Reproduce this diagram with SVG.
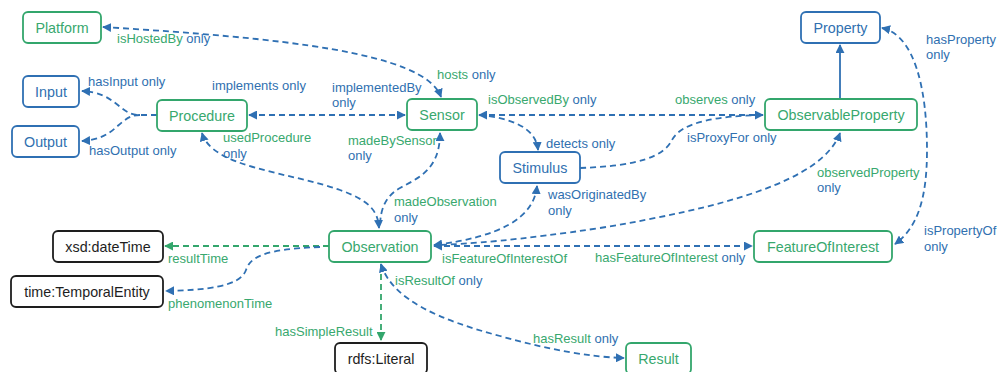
<svg xmlns="http://www.w3.org/2000/svg" width="1001" height="372" viewBox="0 0 1001 372">
<style>
.box{fill:#fff;stroke-width:1.8}
.g{stroke:#33a66c}
.b{stroke:#2f70b3}
.k{stroke:#1e1e1e}
.nt{font-family:"Liberation Sans",Arial,sans-serif;font-size:14.3px;text-anchor:middle}
.lt{font-family:"Liberation Sans",Arial,sans-serif;font-size:13px}
.tg{fill:#38a86e}
.tb{fill:#3070b0}
.tk{fill:#1e1e1e}
.c{fill:none;stroke-width:1.8;stroke-dasharray:6 4}
.cb{stroke:#2f70b3}
.cg{stroke:#33a66c}
.solid{fill:none;stroke:#2f70b3;stroke-width:1.8}
</style>
<defs>
<marker id="ab" viewBox="0 0 10 10" refX="9" refY="5" markerWidth="9" markerHeight="9" markerUnits="userSpaceOnUse" orient="auto-start-reverse"><path d="M0,0 L10,5 L0,10 z" fill="#2f70b3"/></marker>
<marker id="ag" viewBox="0 0 10 10" refX="9" refY="5" markerWidth="9" markerHeight="9" markerUnits="userSpaceOnUse" orient="auto-start-reverse"><path d="M0,0 L10,5 L0,10 z" fill="#33a66c"/></marker>
</defs>
<rect width="1001" height="372" fill="#fff"/>
<g id="connectors">
<path class="c cb" d="M103,27 C280,38 425,52 441,97" marker-start="url(#ab)" marker-end="url(#ab)"/>
<path class="c cb" d="M157,115 L140,115 C118,115 118,93 82,91" marker-end="url(#ab)"/>
<path class="c cb" d="M140,115 C118,115 118,139 82,141" marker-end="url(#ab)"/>
<path class="c cb" d="M249,115 L405,115" marker-start="url(#ab)" marker-end="url(#ab)"/>
<path class="c cb" d="M202,133 C212,168 290,172 340,190 C368,200 378,210 379,228" marker-start="url(#ab)" marker-end="url(#ab)"/>
<path class="c cb" d="M440,133 C440,170 418,178 400,188 C386,196 380,208 380,228" marker-start="url(#ab)"/>
<path class="c cb" d="M479,115 L763,115" marker-start="url(#ab)" marker-end="url(#ab)"/>
<path class="c cb" d="M479,115 C512,118 536,128 538,150" marker-end="url(#ab)"/>
<path class="c cb" d="M580,168 C640,166 664,156 672,140 C682,121 720,116 763,115"/>
<path class="c cb" d="M537,186 C534,218 500,237 434,245" marker-start="url(#ab)" marker-end="url(#ab)"/>
<path class="c cb" d="M840,133 C822,182 720,208 600,228 C520,240 470,244 434,245" marker-start="url(#ab)"/>
<path class="c cb" d="M434,246 L752,246" marker-start="url(#ab)" marker-end="url(#ab)"/>
<path class="c cb" d="M882,28 C915,35 927,90 927,150 C927,200 917,228 895,244" marker-start="url(#ab)" marker-end="url(#ab)"/>
<path class="solid" d="M840,99 L840,45" marker-end="url(#ab)"/>
<path class="c cg" d="M329,246 L165,246" marker-end="url(#ag)"/>
<path class="c cb" d="M320,247 C262,249 250,258 246,270 C240,287 205,290 166,291" marker-end="url(#ab)"/>
<path class="c cg" d="M381,264 L381,340" marker-end="url(#ag)"/>
<path class="c cb" d="M381,264 C392,300 440,320 500,336 C550,350 590,357 624,358" marker-start="url(#ab)" marker-end="url(#ab)"/>
</g>
<g id="labels">
<text class="lt" x="117" y="43"><tspan class="tg">isHostedBy</tspan><tspan class="tb"> only</tspan></text>
<text class="lt tb" x="88" y="86">hasInput only</text>
<text class="lt tb" x="89" y="155">hasOutput only</text>
<text class="lt tb" x="212" y="90">implements only</text>
<text class="lt tg" x="223" y="142">usedProcedure</text>
<text class="lt tb" x="223" y="158">only</text>
<text class="lt tb" x="332" y="92">implementedBy</text>
<text class="lt tb" x="332" y="107">only</text>
<text class="lt" x="437" y="79"><tspan class="tg">hosts</tspan><tspan class="tb"> only</tspan></text>
<text class="lt" x="488" y="104"><tspan class="tg">isObservedBy</tspan><tspan class="tb"> only</tspan></text>
<text class="lt tg" x="348" y="145">madeBySensor</text>
<text class="lt tb" x="348" y="160">only</text>
<text class="lt tb" x="546" y="148">detects only</text>
<text class="lt" x="675" y="104"><tspan class="tg">observes</tspan><tspan class="tb"> only</tspan></text>
<text class="lt tb" x="687" y="142">isProxyFor only</text>
<text class="lt tb" x="926" y="44">hasProperty</text>
<text class="lt tb" x="926" y="59">only</text>
<text class="lt tg" x="817" y="177">observedProperty</text>
<text class="lt tb" x="817" y="192">only</text>
<text class="lt tb" x="924" y="235">isPropertyOf</text>
<text class="lt tb" x="924" y="251">only</text>
<text class="lt tg" x="394" y="206">madeObservation</text>
<text class="lt tb" x="394" y="222">only</text>
<text class="lt tb" x="548" y="199">wasOriginatedBy</text>
<text class="lt tb" x="548" y="215">only</text>
<text class="lt tg" x="442" y="263">isFeatureOfInterestOf</text>
<text class="lt" x="595" y="262"><tspan class="tg">hasFeatureOfInterest</tspan><tspan class="tb"> only</tspan></text>
<text class="lt" x="395" y="285"><tspan class="tg">isResultOf</tspan><tspan class="tb"> only</tspan></text>
<text class="lt tg" x="275" y="336">hasSimpleResult</text>
<text class="lt" x="533" y="343"><tspan class="tg">hasResult</tspan><tspan class="tb"> only</tspan></text>
<text class="lt tg" x="168" y="263">resultTime</text>
<text class="lt tg" x="168" y="308">phenomenonTime</text>
</g>
<g id="Platform"><rect class="box g" x="23" y="12" width="78" height="31" rx="5"/><text class="nt tg" x="62" y="32.6">Platform</text></g>
<g id="Input"><rect class="box b" x="23" y="76" width="56" height="31" rx="5"/><text class="nt tb" x="51" y="96.6">Input</text></g>
<g id="Output"><rect class="box b" x="12" y="126" width="67" height="31" rx="5"/><text class="nt tb" x="45.5" y="146.6">Output</text></g>
<g id="Procedure"><rect class="box g" x="157" y="100" width="90" height="31" rx="5"/><text class="nt tg" x="202" y="120.6">Procedure</text></g>
<g id="Sensor"><rect class="box g" x="407" y="99" width="70" height="31" rx="5"/><text class="nt tg" x="442" y="119.6">Sensor</text></g>
<g id="Stimulus"><rect class="box b" x="500" y="152" width="80" height="31" rx="5"/><text class="nt tb" x="540" y="172.6">Stimulus</text></g>
<g id="Property"><rect class="box b" x="801" y="12" width="79" height="31" rx="5"/><text class="nt tb" x="840.5" y="32.6">Property</text></g>
<g id="ObservableProperty"><rect class="box g" x="765" y="99" width="152" height="31" rx="5"/><text class="nt tg" x="841" y="119.6">ObservableProperty</text></g>
<g id="Observation"><rect class="box g" x="329" y="231" width="102" height="31" rx="5"/><text class="nt tg" x="380" y="251.6">Observation</text></g>
<g id="FeatureOfInterest"><rect class="box g" x="754" y="231" width="138" height="31" rx="5"/><text class="nt tg" x="823" y="251.6">FeatureOfInterest</text></g>
<g id="xsd_dateTime"><rect class="box k" x="53" y="231" width="110" height="31" rx="5"/><text class="nt tk" x="108" y="251.6">xsd:dateTime</text></g>
<g id="time_TemporalEntity"><rect class="box k" x="11" y="276" width="152" height="31" rx="5"/><text class="nt tk" x="87" y="296.6">time:TemporalEntity</text></g>
<g id="rdfs_Literal"><rect class="box k" x="335" y="343" width="92" height="31" rx="5"/><text class="nt tk" x="381" y="363.6">rdfs:Literal</text></g>
<g id="Result"><rect class="box g" x="626" y="343" width="65" height="31" rx="5"/><text class="nt tg" x="658.5" y="363.6">Result</text></g>
</svg>
